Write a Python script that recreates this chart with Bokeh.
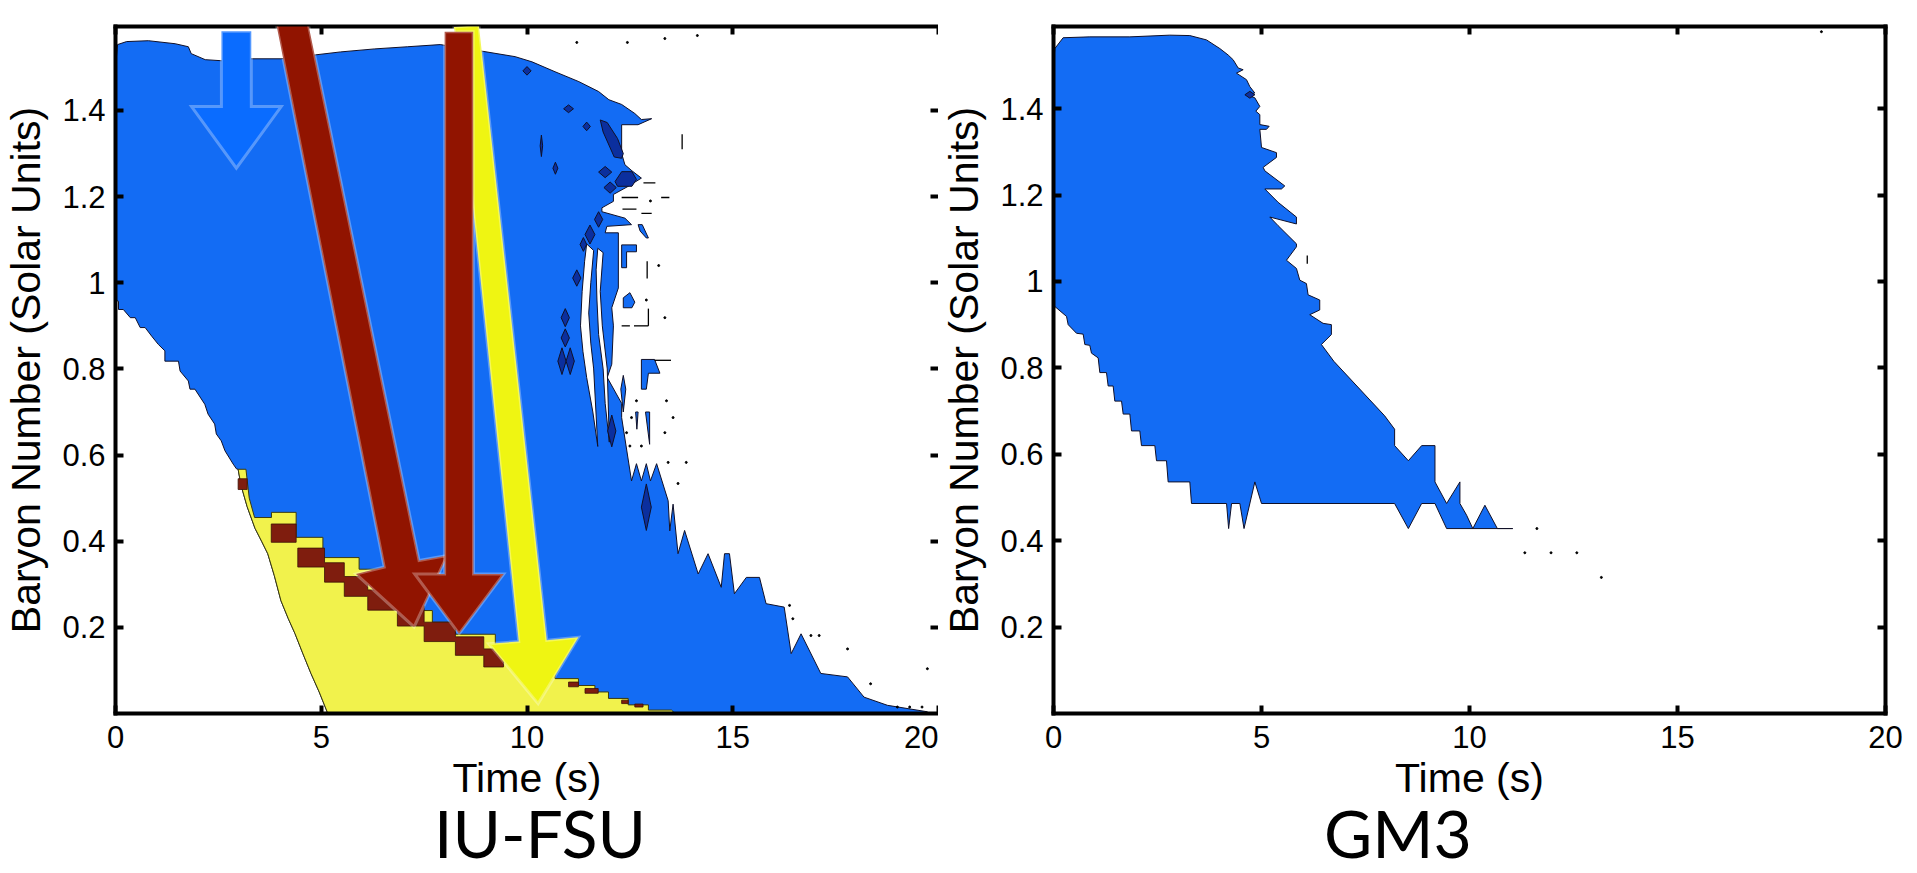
from bokeh.plotting import figure
from bokeh.models import Range1d, LinearAxis, FixedTicker, PolyAnnotation, CustomJSTickFormatter, Div
from bokeh.layouts import row, column
from bokeh.embed import file_html
from bokeh.resources import INLINE

# ---------------- ticks ----------------
time_ticks = [0, 5, 10, 15, 20]
baryon_ticks = [0.2, 0.4, 0.6, 0.8, 1.0, 1.2, 1.4]

# ---------------- IU-FSU : blue region outline (time s, baryon number) ----------------
iu_blue_t = [0.0, 0.05, 0.27, 0.8, 1.45, 1.77, 1.84, 2.18, 2.66, 3.29, 4.02, 4.67, 5.47, 6.3, 7.1,
             7.89, 8.7, 9.71, 10.12, 10.68, 11.26, 11.74, 11.99, 12.3, 12.62, 12.78, 13.03,
             12.7, 12.3, 12.3, 12.38, 12.55, 12.78, 12.46, 12.1, 12.1, 11.82, 11.82, 12.38, 12.54,
             11.94, 11.9, 12.22, 12.22, 12.06, 12.1, 12.06, 11.95, 12.3, 12.3, 12.54, 12.66, 12.78,
             12.9, 13.0, 13.15, 13.43, 13.47, 13.55, 13.67, 13.83, 14.16, 14.40, 14.72, 14.80, 14.92,
             15.04, 15.33, 15.65, 15.81, 16.25, 16.42, 16.66, 17.14, 17.79, 18.19, 18.76, 19.73, 19.73,
             5.16, 4.95, 4.75, 4.55, 4.36, 4.2, 4.02, 3.86, 3.7, 3.55, 3.39, 3.2, 3.05, 2.98,
             2.94, 2.86, 2.66, 2.57, 2.45, 2.41, 2.25, 2.17, 1.93, 1.81, 1.77, 1.57, 1.53, 1.2,
             1.2, 1.04, 0.88, 0.72, 0.60, 0.48, 0.36, 0.19, 0.073, 0.073, 0.0]
iu_blue_b = [1.50, 1.553, 1.560, 1.562, 1.555, 1.548, 1.532, 1.518, 1.515, 1.520, 1.520, 1.527,
             1.536, 1.543, 1.548, 1.553, 1.541, 1.525, 1.513, 1.490, 1.467, 1.444, 1.425, 1.414,
             1.393, 1.379, 1.381,
             1.367, 1.367, 1.30, 1.274, 1.26, 1.243, 1.224, 1.205, 1.189, 1.174, 1.165, 1.15, 1.135,
             1.131, 1.116, 1.116, 0.988, 0.942, 0.90, 0.811, 0.78, 0.72, 0.687, 0.540, 0.58, 0.54,
             0.58, 0.54, 0.58, 0.494, 0.424, 0.486, 0.371, 0.425, 0.324, 0.371, 0.293, 0.371, 0.371,
             0.278, 0.316, 0.316, 0.255, 0.247, 0.139, 0.185, 0.093, 0.085, 0.038, 0.019, 0.004, 0.0,
             0.0, 0.05, 0.093, 0.14, 0.186, 0.22, 0.262, 0.32, 0.371, 0.40, 0.43, 0.48, 0.53, 0.567,
             0.568, 0.579, 0.61, 0.633, 0.649, 0.672, 0.695, 0.718, 0.753, 0.753, 0.772, 0.795,
             0.818, 0.818, 0.842, 0.857, 0.876, 0.896, 0.896, 0.919, 0.919, 0.938, 0.938, 0.957, 0.96]

# white gaps cutting into the ragged edge
iu_gap_t = [[11.45, 11.62, 11.55, 11.50, 11.55, 11.62, 11.72, 11.60, 11.45, 11.36, 11.30, 11.34, 11.40],
            [11.72, 11.85, 11.78, 11.83, 11.95, 12.0, 11.90, 11.85, 11.74, 11.70, 11.68]]
iu_gap_b = [[1.09, 1.075, 1.0, 0.93, 0.86, 0.80, 0.62, 0.70, 0.78, 0.84, 0.90, 0.98, 1.05],
            [1.08, 1.07, 0.98, 0.90, 0.80, 0.63, 0.72, 0.80, 0.88, 0.96, 1.03]]

# detached blue pieces beyond the edge
iu_isle_t = [[12.3, 12.66, 12.66, 12.42, 12.42, 12.3],
             [12.34, 12.5, 12.62, 12.55, 12.34],
             [12.7, 12.8, 12.95, 12.9, 12.75],
             [12.78, 13.1, 13.23, 12.95, 12.9, 12.78],
             [12.28, 12.34, 12.40, 12.34],
             [12.64, 12.70, 12.67],
             [12.88, 12.98, 12.98]]
iu_isle_b = [[1.088, 1.088, 1.072, 1.072, 1.035, 1.035],
             [0.965, 0.977, 0.955, 0.942, 0.942],
             [1.135, 1.135, 1.104, 1.104, 1.12],
             [0.822, 0.822, 0.79, 0.79, 0.753, 0.753],
             [0.753, 0.785, 0.753, 0.70],
             [0.70, 0.70, 0.66],
             [0.70, 0.70, 0.625]]

# dark blue spots (centre, half width, half height)
spot_t = [10.0, 11.01, 11.45, 10.35, 10.69, 11.9, 12.02, 11.74, 11.53, 11.37, 11.21, 10.93, 10.93,
          10.85, 11.05, 12.06, 12.9]
spot_b = [1.492, 1.404, 1.363, 1.318, 1.266, 1.257, 1.221, 1.147, 1.112, 1.089, 1.011, 0.919, 0.872,
          0.818, 0.818, 0.656, 0.479]
spot_hw = [0.1, 0.12, 0.09, 0.03, 0.06, 0.16, 0.15, 0.1, 0.12, 0.08, 0.1, 0.1, 0.1, 0.1, 0.1,
           0.1, 0.12]
spot_hh = [0.01, 0.009, 0.01, 0.025, 0.014, 0.013, 0.013, 0.018, 0.022, 0.016, 0.019, 0.021,
           0.021, 0.031, 0.031, 0.037, 0.054]
blob_t = [[11.78, 11.95, 12.2, 12.34, 12.3, 12.12, 11.85],
          [12.14, 12.3, 12.55, 12.66, 12.55, 12.2]]
blob_b = [[1.378, 1.372, 1.335, 1.30, 1.289, 1.292, 1.35],
          [1.235, 1.258, 1.258, 1.24, 1.224, 1.224]]

# yellow region: left curve + staircase top
yel_left_t = [5.16, 4.95, 4.75, 4.55, 4.36, 4.2, 4.02, 3.86, 3.7, 3.55, 3.39, 3.2, 3.05, 2.98, 3.17, 3.25]
yel_left_b = [0.0, 0.05, 0.093, 0.14, 0.186, 0.22, 0.262, 0.32, 0.371, 0.40, 0.43, 0.48, 0.53, 0.567, 0.567, 0.50]
yel_step_t = [3.38, 3.79, 4.39, 5.04, 5.92, 6.6, 7.1, 7.46, 7.7, 8.26, 9.23, 9.9, 10.68, 11.25,
              11.65, 11.98, 12.46, 12.95, 13.51]
yel_step_b = [0.455, 0.467, 0.409, 0.362, 0.335, 0.30, 0.265, 0.239, 0.212, 0.184, 0.14, 0.11,
              0.081, 0.065, 0.05, 0.035, 0.02, 0.008]

# dark red band inside the yellow staircase
red_step_t = [4.43, 5.08, 5.56, 6.13, 6.85, 7.5, 8.26, 8.95, 9.43]
red_top = [0.384, 0.350, 0.318, 0.287, 0.250, 0.212, 0.178, 0.150]
red_bot = [0.340, 0.305, 0.272, 0.240, 0.203, 0.167, 0.135, 0.108]
red_blk_t0 = [3.785, 2.98, 11.01, 11.41, 12.30, 12.62]
red_blk_t1 = [4.39, 3.2, 11.25, 11.73, 12.46, 12.82]
red_blk_b0 = [0.3975, 0.52, 0.062, 0.047, 0.023, 0.015]
red_blk_b1 = [0.44, 0.545, 0.073, 0.058, 0.031, 0.022]

# isolated specks
iu_dot_t = [11.21, 12.44, 13.35, 14.14, 13.2, 12.9, 13.0, 13.35, 12.66, 13.39, 12.54, 13.55, 12.42,
            13.35, 12.5, 12.78, 13.43, 13.87, 13.67, 16.38, 16.46, 16.9, 17.1, 17.79, 18.35, 19.73,
            19.0, 19.3, 19.6]
iu_dot_b = [1.558, 1.558, 1.567, 1.574, 1.04, 0.96, 1.19, 0.919, 0.726, 0.726, 0.687, 0.687, 0.652,
            0.652, 0.621, 0.621, 0.583, 0.583, 0.534, 0.251, 0.22, 0.181, 0.181, 0.15, 0.069, 0.104,
            0.015, 0.015, 0.015]
iu_dash_t0 = [13.77, 12.3, 12.32, 12.78, 13.26, 12.83, 12.3, 12.6, 13.1, 12.92, 12.95]
iu_dash_t1 = [13.77, 12.7, 12.66, 13.03, 13.46, 13.12, 12.5, 12.95, 13.5, 12.92, 12.95]
iu_dash_b0 = [1.31, 1.198, 1.171, 1.161, 1.198, 1.232, 0.9, 0.9, 0.82, 1.01, 0.90]
iu_dash_b1 = [1.345, 1.198, 1.171, 1.161, 1.198, 1.232, 0.9, 0.9, 0.82, 1.05, 0.94]

# annotation arrows (vertices in time / baryon units of the IU-FSU panel)
arrow_yellow_t = [8.225, 8.83, 10.48, 11.25, 10.27, 9.07, 9.8]
arrow_yellow_b = [1.594, 1.598, 0.170, 0.177, 0.023, 0.162, 0.167]
arrow_red1_t = [3.867, 4.617, 7.377, 8.063, 7.256, 5.843, 6.53]
arrow_red1_b = [1.620, 1.632, 0.355, 0.367, 0.201, 0.324, 0.340]
arrow_red2_t = [7.998, 8.692, 8.70, 9.435, 8.35, 7.27, 7.998]
arrow_red2_b = [1.583, 1.583, 0.324, 0.324, 0.185, 0.324, 0.324]
arrow_blue_t = [2.574, 3.30, 3.30, 4.027, 2.937, 1.848, 2.574]
arrow_blue_b = [1.584, 1.584, 1.409, 1.409, 1.266, 1.409, 1.409]

# ---------------- GM3 ----------------
gm_blue_t = [0.0, 0.032, 0.232, 0.873, 1.834, 2.796, 3.277, 3.678, 3.998, 4.199, 4.319, 4.439, 4.559,
             4.399, 4.639, 4.719, 4.839, 4.639, 4.839, 4.96, 4.864, 4.96, 4.96, 5.184, 5.12, 4.96,
             5.0, 5.36, 5.36, 5.04, 5.08, 5.56, 5.48, 5.08, 5.40, 5.84, 5.84, 5.2, 5.40, 5.84, 5.84,
             5.6, 5.84, 5.92, 6.08, 6.12, 6.40, 6.40, 6.16, 6.48, 6.68, 6.68, 6.44, 6.74,
             7.96, 8.2, 8.2, 8.53, 8.85, 9.17, 9.17, 9.45, 9.77, 9.77, 9.93, 10.08, 10.37, 10.67, 11.04,
             11.04, 9.45, 9.17, 8.85, 8.53, 8.2, 5.0, 4.84, 4.58, 4.48, 4.28, 4.21, 4.16, 3.317,
             3.277, 2.756, 2.716, 2.476, 2.436, 2.115, 2.075, 1.875, 1.835, 1.675, 1.635, 1.474,
             1.434, 1.314, 1.274, 1.114, 1.074, 0.913, 0.873, 0.753, 0.713, 0.553, 0.353, 0.313,
             0.032, 0.0]
gm_blue_b = [1.50, 1.539, 1.564, 1.566, 1.566, 1.570, 1.569, 1.559, 1.539, 1.524, 1.513, 1.494, 1.490,
             1.482, 1.467, 1.451, 1.436, 1.432, 1.425, 1.405, 1.394, 1.386, 1.363, 1.359, 1.352, 1.352,
             1.31, 1.298, 1.287, 1.264, 1.256, 1.221, 1.214, 1.214, 1.183, 1.149, 1.133, 1.149, 1.129,
             1.087, 1.08, 1.049, 1.03, 1.003, 0.995, 0.969, 0.957, 0.934, 0.923, 0.903, 0.9, 0.877,
             0.854, 0.815,
             0.689, 0.658, 0.62, 0.585, 0.62, 0.62, 0.536, 0.486, 0.536, 0.486, 0.459, 0.428, 0.482,
             0.428, 0.428,
             0.428, 0.428, 0.486, 0.486, 0.428, 0.486, 0.486, 0.536, 0.428, 0.486, 0.486, 0.428,
             0.486, 0.486,
             0.536, 0.536, 0.585, 0.585, 0.62, 0.62, 0.654, 0.654, 0.693, 0.693, 0.723, 0.723,
             0.758, 0.758, 0.789, 0.789, 0.823, 0.834, 0.852, 0.854, 0.878, 0.88, 0.9, 0.919,
             0.942, 0.945]
gm_spot_t = [4.72]
gm_spot_b = [1.432]
gm_spot_hw = [0.12]
gm_spot_hh = [0.008]
gm_dot_t = [11.62, 11.33, 11.96, 12.58, 13.17, 18.46]
gm_dot_b = [0.428, 0.372, 0.372, 0.372, 0.315, 1.578]
gm_dash_t = [6.1]
gm_dash_b0 = [1.041]
gm_dash_b1 = [1.06]

# ---------------- panel captions ----------------
caption_text = ["IU-FSU", "GM3"]
caption_box_w = [1080, 636]   # caption boxes laid side by side, text centred in each

# ---------------- colours ----------------
C_BLUE = "#136cf4"
C_DARKBLUE = "#0b2f9e"
C_YELLOW = "#f1f24c"
C_REDBAND = "#7f1d0e"
C_ARROW_RED = "#911400"
C_ARROW_YEL = "#eff512"
C_ARROW_BLUE = "#0a6cff"
C_EDGE = "#101028"
FONT = "Liberation Sans"

TOP_H = 812
CAP_H = 873 - TOP_H


def stair(ts, ys):
    xs, bs = [], []
    for i, y in enumerate(ys):
        xs += [ts[i], ts[i + 1]]
        bs += [y, y]
    return xs, bs


def diamonds(cx, cy, hw, hh):
    xs = [[x - w, x, x + w, x] for x, w in zip(cx, hw)]
    ys = [[y, y + h, y, y - h] for y, h in zip(cy, hh)]
    return xs, ys


def style_axes(p, right_line=True):
    fmt = CustomJSTickFormatter(code="return (Math.round(tick*10)/10).toString();")
    blank = CustomJSTickFormatter(code="return '';")
    xa = p.xaxis[0]
    xa.ticker = FixedTicker(ticks=time_ticks)
    xa.axis_label = "Time (s)"
    ya = p.yaxis[0]
    ya.ticker = FixedTicker(ticks=baryon_ticks)
    ya.formatter = fmt
    ya.axis_label = "Baryon Number (Solar Units)"
    top = LinearAxis(ticker=FixedTicker(ticks=time_ticks), formatter=blank)
    rgt = LinearAxis(ticker=FixedTicker(ticks=baryon_ticks), formatter=blank)
    p.add_layout(top, "above")
    p.add_layout(rgt, "right")
    for ax in (xa, ya, top, rgt):
        ax.axis_line_width = 4
        ax.axis_line_color = "black"
        ax.axis_line_cap = "square"
        ax.major_tick_in = 8
        ax.major_tick_out = 0
        ax.major_tick_line_width = 4
        ax.major_tick_line_color = "black"
        ax.minor_tick_line_color = None
        ax.major_label_text_font = FONT
        ax.major_label_text_color = "black"
        ax.axis_label_text_font = FONT
        ax.axis_label_text_font_style = "normal"
        ax.axis_label_text_color = "black"
        ax.axis_label_text_font_size = "41px"
    for ax in (xa, ya):
        ax.major_label_text_font_size = "31px"
    xa.major_label_standoff = 12
    ya.major_label_standoff = 10
    xa.axis_label_standoff = 4
    ya.axis_label_standoff = 10
    for ax in (top, rgt):
        ax.major_label_text_font_size = "1px"
        ax.major_label_standoff = 0
    if not right_line:
        rgt.axis_line_color = None
    p.grid.visible = False
    p.outline_line_color = None


# ================= IU-FSU panel =================
p1 = figure(width=938, height=TOP_H, x_range=Range1d(0, 20), y_range=Range1d(0, 1.595),
            output_backend="svg", toolbar_location=None, tools="", title=None,
            min_border_left=112, min_border_right=0, min_border_top=25,
            min_border_bottom=TOP_H - 713)
p1.background_fill_color = "white"
p1.border_fill_color = "white"

p1.patch(iu_blue_t, iu_blue_b, fill_color=C_BLUE, line_color=C_EDGE, line_width=1)
p1.patches(iu_gap_t, iu_gap_b, fill_color="white", line_color=C_EDGE, line_width=1)
p1.patches(iu_isle_t, iu_isle_b, fill_color=C_BLUE, line_color=C_EDGE, line_width=1)
sx, sy = diamonds(spot_t, spot_b, spot_hw, spot_hh)
p1.patches(sx + blob_t, sy + blob_b, fill_color=C_DARKBLUE, line_color=C_EDGE, line_width=1)

yst, ysb = stair(yel_step_t, yel_step_b)
yel_t = yel_left_t + yst + [13.6]
yel_b = yel_left_b + ysb + [0.0]
p1.patch(yel_t, yel_b, fill_color=C_YELLOW, line_color="#3a3a10", line_width=1)

rtt, rtb = stair(red_step_t, red_top)
rbt, rbb = stair(red_step_t, red_bot)
p1.patch(rtt + rbt[::-1], rtb + rbb[::-1], fill_color=C_REDBAND, line_color="#3a1005", line_width=0.8)
p1.quad(left=red_blk_t0, right=red_blk_t1, bottom=red_blk_b0, top=red_blk_b1,
        fill_color=C_REDBAND, line_color="#3a1005", line_width=0.8)

p1.scatter(iu_dot_t, iu_dot_b, size=2, color="black")
p1.segment(x0=iu_dash_t0, y0=iu_dash_b0, x1=iu_dash_t1, y1=iu_dash_b1, line_color="black", line_width=1.3)

style_axes(p1, right_line=False)

for xs_, ys_, col in [(arrow_yellow_t, arrow_yellow_b, C_ARROW_YEL),
                      (arrow_red1_t, arrow_red1_b, C_ARROW_RED),
                      (arrow_red2_t, arrow_red2_b, C_ARROW_RED),
                      (arrow_blue_t, arrow_blue_b, C_ARROW_BLUE)]:
    p1.add_layout(PolyAnnotation(xs=xs_, ys=ys_, fill_color=col, fill_alpha=1.0,
                                 line_color="white", line_width=3, line_join="miter"))

# ================= GM3 panel =================
p2 = figure(width=979, height=TOP_H, x_range=Range1d(0, 20), y_range=Range1d(0, 1.59),
            output_backend="svg", toolbar_location=None, tools="", title=None,
            min_border_left=114, min_border_right=32, min_border_top=26,
            min_border_bottom=TOP_H - 718)
p2.background_fill_color = "white"
p2.border_fill_color = "white"
p2.patch(gm_blue_t, gm_blue_b, fill_color=C_BLUE, line_color=C_EDGE, line_width=1)
gx, gy = diamonds(gm_spot_t, gm_spot_b, gm_spot_hw, gm_spot_hh)
p2.patches(gx, gy, fill_color=C_DARKBLUE, line_color=C_EDGE, line_width=1)
p2.scatter(gm_dot_t, gm_dot_b, size=2, color="black")
p2.segment(x0=gm_dash_t, y0=gm_dash_b0, x1=gm_dash_t, y1=gm_dash_b1, line_color="black", line_width=1.3)
style_axes(p2, right_line=True)

# ================= captions strip =================
caps = []
for txt, w in zip(caption_text, caption_box_w):
    html = ('<div style="width:%dpx;height:%dpx;font-family:Lato;font-size:66px;'
            'line-height:41px;text-align:center;color:black;overflow:visible;'
            'white-space:nowrap;">%s</div>' % (w, CAP_H, txt))
    caps.append(Div(text=html, width=w, height=CAP_H, margin=0))

layout = column(row(p1, p2), row(*caps))
open("out.html", "w").write(file_html(layout, INLINE))
